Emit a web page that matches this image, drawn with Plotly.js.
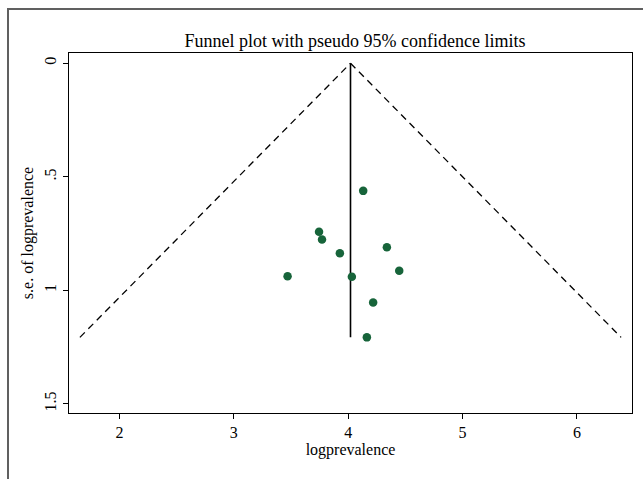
<!DOCTYPE html>
<html>
<head>
<meta charset="utf-8">
<script src="https://cdn.plot.ly/plotly-3.0.1.min.js"></script>
<style>
  html, body { margin: 0; padding: 0; background: #fff; }
  #wrap { position: relative; width: 643px; height: 479px; }
  #chart { width: 643px; height: 479px; }
  #frame { position: absolute; left: 7px; top: 8px; width: 640px; height: 475px;
           border-left: 2px solid #606060; border-top: 2px solid #606060; pointer-events: none; }
</style>
</head>
<body>
<div id="wrap"><div id="chart"></div><div id="frame"></div></div>
<script>
// Study estimates (logprevalence) and their standard errors
const logprevalence = [4.131, 3.745, 3.771, 3.927, 4.338, 4.446, 3.470, 4.032, 4.218, 4.163];
const seLogprevalence = [0.562, 0.742, 0.776, 0.837, 0.810, 0.914, 0.938, 0.940, 1.053, 1.207];
const pooledEstimate = 4.02;
const zCrit = 1.96;
const xTickVals = [2, 3, 4, 5, 6];
const yTickVals = [0, 0.5, 1, 1.5];
const yTickText = ['0', '.5', '1', '1.5'];

const seMax = Math.max(...seLogprevalence);
const serif = '"Liberation Serif", "Times New Roman", serif';

const traces = [
  { // lower 95% limit
    x: [pooledEstimate - zCrit * seMax, pooledEstimate], y: [seMax, 0],
    mode: 'lines', line: {color: '#000', width: 1.3, dash: '7px,5px'}, hoverinfo: 'skip'
  },
  { // upper 95% limit
    x: [pooledEstimate, pooledEstimate + zCrit * seMax], y: [0, seMax],
    mode: 'lines', line: {color: '#000', width: 1.3, dash: '7px,5px'}, hoverinfo: 'skip'
  },
  { // pooled estimate line
    x: [pooledEstimate, pooledEstimate], y: [0, seMax],
    mode: 'lines', line: {color: '#000', width: 1.6}, hoverinfo: 'skip'
  },
  {
    x: logprevalence, y: seLogprevalence, mode: 'markers',
    marker: {color: '#17643a', size: 8.5}
  }
];

const layout = {
  width: 643, height: 479,
  margin: {l: 69, r: 11, t: 53, b: 66},
  paper_bgcolor: '#fff', plot_bgcolor: '#fff',
  showlegend: false,
  font: {family: serif, color: '#000', size: 15},
  title: {text: 'Funnel plot with pseudo 95% confidence limits', x: 0.552, xanchor: 'center',
          y: 0.915, yanchor: 'middle', font: {family: serif, size: 18, color: '#000'}},
  xaxis: {
    range: [1.559, 6.481], tickvals: xTickVals, ticks: 'outside', ticklen: 5, tickcolor: '#000',
    showline: true, mirror: true, linecolor: '#000', linewidth: 1.2, showgrid: false, zeroline: false,
    tickfont: {family: serif, size: 16},
    title: {text: 'logprevalence', font: {family: serif, size: 16}, standoff: 2}
  },
  yaxis: {
    range: [1.540, -0.045], tickvals: yTickVals, ticktext: yTickText, ticks: 'outside', ticklen: 5,
    tickcolor: '#000', tickangle: -90,
    showline: true, mirror: true, linecolor: '#000', linewidth: 1.2, showgrid: false, zeroline: false,
    tickfont: {family: serif, size: 16},
    title: {text: 's.e. of logprevalence', font: {family: serif, size: 16}, standoff: 4}
  }
};

Plotly.newPlot('chart', traces, layout, {displayModeBar: false, staticPlot: true});
</script>
</body>
</html>
